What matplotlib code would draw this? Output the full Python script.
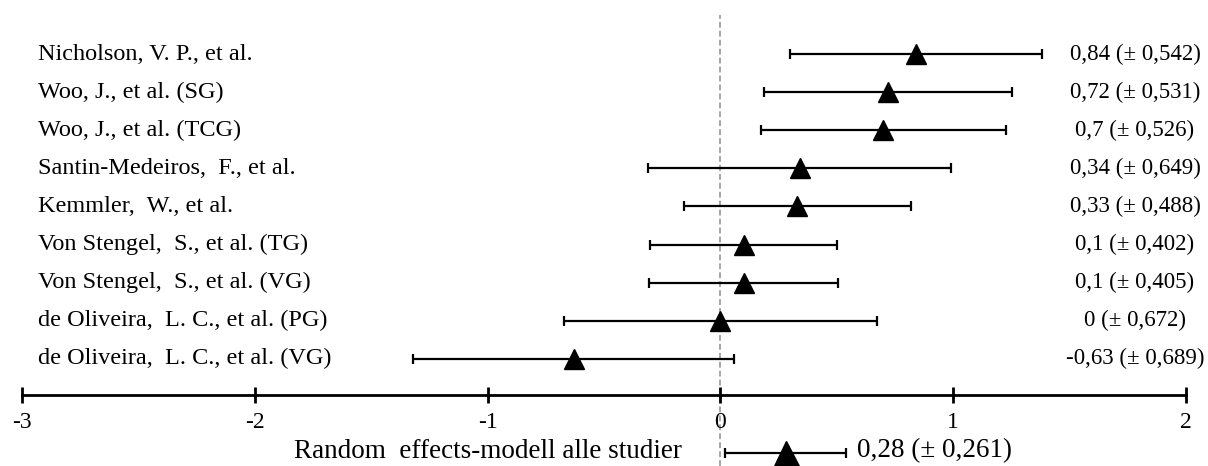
import numpy as np
import matplotlib.pyplot as plt

plt.rcParams['font.family'] = ['Liberation Serif', 'DejaVu Serif']

# data
studies = ['Nicholson, V. P., et al.',
           'Woo, J., et al. (SG)',
           'Woo, J., et al. (TCG)',
           'Santin-Medeiros,  F., et al.',
           'Kemmler,  W., et al.',
           'Von Stengel,  S., et al. (TG)',
           'Von Stengel,  S., et al. (VG)',
           'de Oliveira,  L. C., et al. (PG)',
           'de Oliveira,  L. C., et al. (VG)']
effect = [0.84, 0.72, 0.7, 0.34, 0.33, 0.1, 0.1, 0.0, -0.63]
ci = [0.542, 0.531, 0.526, 0.649, 0.488, 0.402, 0.405, 0.672, 0.689]
value_labels = ['0,84 (± 0,542)', '0,72 (± 0,531)', '0,7 (± 0,526)',
                '0,34 (± 0,649)', '0,33 (± 0,488)', '0,1 (± 0,402)',
                '0,1 (± 0,405)', '0 (± 0,672)', '-0,63 (± 0,689)']
summary_name = 'Random  effects-modell alle studier'
summary_effect = 0.28
summary_ci = 0.261
summary_label = '0,28 (± 0,261)'
xticks = [-3, -2, -1, 0, 1, 2]

W, H = 1208, 466
fig = plt.figure(figsize=(W/100, H/100), dpi=100)
x0, x1 = 22, 1186
ax = fig.add_axes([x0/W, 0, (x1-x0)/W, 1])

# rows are spaced in index units; pixel layout: row 0 at y=54, step 38.1 px
step = 38.1
top = 54
rows = np.arange(len(studies))
axis_y = (395-top)/step
summary_y = (453-top)/step
ax.set_ylim((H-top)/step, -top/step)
ax.set_xlim(-3, 2)

ax.axvline(0, ymin=0, ymax=1-15/H, color='#a6a6a6', lw=1.4, ls=(0, (3, 1.6)), zorder=1)

ax.errorbar(effect, rows, xerr=ci, fmt='^', color='black', ms=14,
            capsize=3.5, capthick=1.6, elinewidth=1.6, zorder=3)
ax.errorbar([summary_effect], [summary_y], xerr=[summary_ci], fmt='^',
            color='black', ms=18, capsize=3.5, capthick=1.6, elinewidth=1.6,
            zorder=3, clip_on=False)

for i, name in enumerate(studies):
    fig.text(38/W, 1-(top+i*step)/H, name, fontsize=17.5,
             va='center', ha='left')
    fig.text(1135/W, 1-(top+i*step)/H, value_labels[i], fontsize=16.5,
             va='center', ha='center')

fig.text(682/W, 1-451/H, summary_name, fontsize=19.5, va='center', ha='right')
fig.text(857/W, 1-451/H, summary_label, fontsize=19.5, va='center', ha='left')

for s in ['top', 'left', 'right']:
    ax.spines[s].set_visible(False)
ax.spines['bottom'].set_position(('data', axis_y))
ax.spines['bottom'].set_linewidth(2)
ax.set_yticks([])
ax.set_xticks(xticks)
ax.set_xticklabels([str(t) for t in xticks], fontsize=17)
ax.tick_params(axis='x', direction='inout', length=11, width=2, pad=7)

fig.savefig('out.png', dpi=100)
